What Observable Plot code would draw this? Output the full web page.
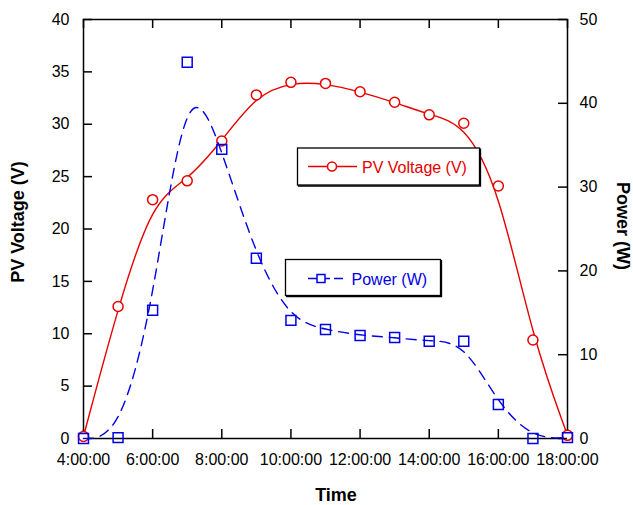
<!DOCTYPE html>
<html><head><meta charset="utf-8">
<script src="https://cdn.jsdelivr.net/npm/d3@7"></script>
<script src="https://cdn.jsdelivr.net/npm/@observablehq/plot@0.6"></script>
<style>
body{margin:0;background:#fff;}
#wrap{position:relative;width:633px;height:505px;font-family:"Liberation Sans",Arial,sans-serif;}
#wrap svg{position:absolute;left:0;top:0;}
.lbl{position:absolute;font-weight:bold;font-size:18px;color:#000;white-space:nowrap;}
</style></head>
<body><div id="wrap"></div>
<script>
const hours = [4,5,6,7,8,9,10,11,12,13,14,15,16,17,18];
const voltage = [0.2,12.6,22.8,24.6,28.4,32.8,34.0,33.9,33.1,32.1,30.9,30.1,24.1,9.4,0.3];
const power = [0,0.1,15.3,44.9,34.5,21.5,14.1,13.0,12.3,12.05,11.6,11.6,4.05,0,0.1];
const xTicks = [4,6,8,10,12,14,16,18];
const vTicks = [0,5,10,15,20,25,30,35,40];
const pTicks = [0,10,20,30,40,50];
const RED = "#e60000", BLUE = "#0000e6";

const vData = hours.map((h,i)=>({h, v: voltage[i]}));
const pData = hours.map((h,i)=>({h, p: power[i]}));
const fmt = h => `${h}:00:00`;

const W = 633, H = 505, ML = 83, MR = 66, MT = 19, MB = 67;
const PW = W - ML - MR, PH = H - MT - MB, TK = 9;

const common = {
  width:W, height:H, marginLeft:ML, marginRight:MR, marginTop:MT, marginBottom:MB,
  x:{domain:[4,18], axis:null},
  style:{fontFamily:'"Liberation Sans", Arial, sans-serif', fontSize:"16px", background:"transparent", color:"#000"}
};

const p1 = Plot.plot({
  ...common,
  y:{domain:[0,40], axis:null},
  marks:[
    Plot.frame({stroke:"#000", strokeWidth:1.5}),
    Plot.tickX(xTicks, {x:d=>d, insetTop:PH-TK, stroke:"#000", strokeWidth:1.5}),
    Plot.tickX(xTicks, {x:d=>d, insetBottom:PH-TK, stroke:"#000", strokeWidth:1.5}),
    Plot.tickY(vTicks, {y:d=>d, insetRight:PW-TK, stroke:"#000", strokeWidth:1.5}),
    Plot.axisX(xTicks, {anchor:"bottom", tickSize:0, tickPadding:15, tickFormat:fmt, label:null, fill:"#000"}),
    Plot.axisY(vTicks, {anchor:"left", tickSize:0, tickPadding:14, label:null, fill:"#000"}),
    Plot.line(vData, {x:"h", y:"v", curve:"basis", stroke:RED, strokeWidth:1.4}),
    Plot.dot(vData, {x:"h", y:"v", r:5, stroke:RED, strokeWidth:1.5, fill:"white"})
  ]
});

const p2 = Plot.plot({
  ...common,
  y:{domain:[0,50], axis:null},
  marks:[
    Plot.tickY(pTicks, {y:d=>d, insetLeft:PW-TK, stroke:"#000", strokeWidth:1.5}),
    Plot.axisY(pTicks, {anchor:"right", tickSize:0, tickPadding:12, label:null, fill:"#000"}),
    Plot.line(pData, {x:"h", y:"p", curve:"basis", stroke:BLUE, strokeWidth:1.4, strokeDasharray:"10,7"}),
    Plot.dot(pData, {x:"h", y:"p", symbol:"square", r:5.6, stroke:BLUE, strokeWidth:1.5, fill:"none"})
  ]
});

const wrap = document.getElementById("wrap");
wrap.appendChild(p1);
wrap.appendChild(p2);

// legend overlay
const NS = "http://www.w3.org/2000/svg";
const lg = document.createElementNS(NS,"svg");
lg.setAttribute("width",W); lg.setAttribute("height",H);
lg.innerHTML = `
<g font-family='"Liberation Sans", Arial, sans-serif' font-size="16">
 <rect x="297.5" y="148" width="182" height="37" fill="white" stroke="#000" stroke-width="1.3"/>
 <path d="M298,186 H480.5 V148.5" fill="none" stroke="#000" stroke-width="1.3"/>
 <line x1="308" x2="357" y1="166.5" y2="166.5" stroke="${RED}" stroke-width="1.4"/>
 <circle cx="332" cy="166.5" r="4.5" fill="white" stroke="${RED}" stroke-width="1.5"/>
 <text x="362" y="172.5" fill="${RED}">PV Voltage (V)</text>
 <rect x="285.5" y="259.5" width="155" height="36" fill="white" stroke="#000" stroke-width="1.3"/>
 <path d="M286,296.5 H441.5 V260" fill="none" stroke="#000" stroke-width="1.3"/>
 <line x1="308" x2="343" y1="278.5" y2="278.5" stroke="${BLUE}" stroke-width="1.4" stroke-dasharray="9,4,0,0"/>
 <rect x="317" y="274.5" width="8" height="8" fill="white" stroke="${BLUE}" stroke-width="1.5"/>
 <text x="351.5" y="284.5" fill="${BLUE}">Power (W)</text>
</g>`;
wrap.appendChild(lg);

// axis titles
const t1 = document.createElement("div");
t1.className="lbl"; t1.textContent="PV Voltage (V)";
t1.style.left="18px"; t1.style.top="222px"; t1.style.transform="translate(-50%,-50%) rotate(-90deg)";
wrap.appendChild(t1);
const t2 = document.createElement("div");
t2.className="lbl"; t2.textContent="Power (W)";
t2.style.left="622px"; t2.style.top="226px"; t2.style.transform="translate(-50%,-50%) rotate(90deg)";
wrap.appendChild(t2);
const t3 = document.createElement("div");
t3.className="lbl"; t3.textContent="Time";
t3.style.left="336px"; t3.style.top="495px"; t3.style.transform="translate(-50%,-50%)";
wrap.appendChild(t3);
</script>
</body></html>
